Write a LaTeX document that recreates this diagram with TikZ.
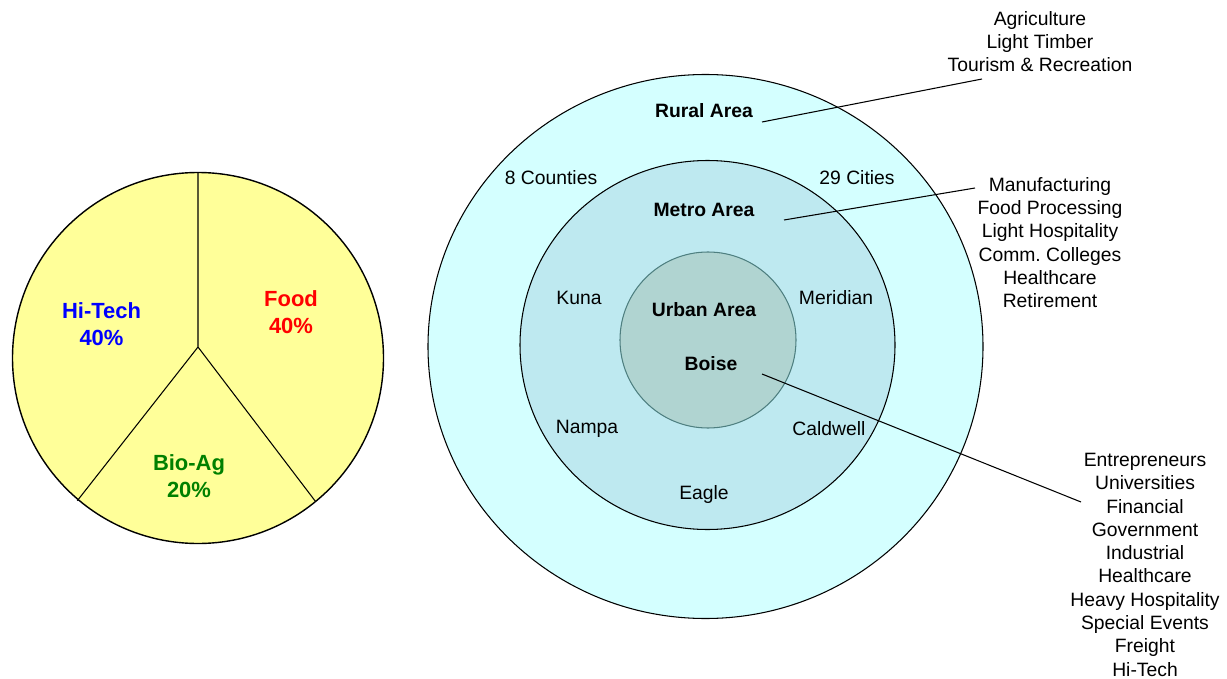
\documentclass[tikz,border=0pt]{standalone}
\usepackage{fontspec}
\setmainfont{Liberation Sans}
\frenchspacing
\definecolor{pieyellow}{HTML}{FFFF99}
\definecolor{ruralcyan}{HTML}{D4FFFF}
\definecolor{metroblue}{HTML}{BEE9F0}
\definecolor{urbangreen}{HTML}{B0D4D1}
\definecolor{urbanline}{HTML}{4E7F80}
\definecolor{bioaggreen}{HTML}{008000}

\begin{document}
\begin{tikzpicture}[x=0.02cm, y=-0.02cm, font=\fontsize{11}{13.25}\selectfont, % 1単位=1px、y軸は下向き
  area/.style={font=\fontsize{11}{13.25}\selectfont\bfseries}, % 地域名
  share/.style={font=\fontsize{12.5}{15.3}\selectfont\bfseries, align=center}, % 円グラフの割合
  jobs/.style={align=center}, % 産業の一覧
  leader/.style={line width=0.6pt}] % 引き出し線
  \useasboundingbox (0,0) rectangle (1227,679); % 全体の大きさ

  % 円グラフ
  \fill[pieyellow] (198,358) ellipse [x radius=185.5, y radius=185.5];
  \coordinate (pc) at (198,347); % 扇形の頂点
  \coordinate (ptop) at (198,172.5);
  \coordinate (pleft) at (77.3,500.7);
  \coordinate (pright) at (315.7,501.7);
  \draw[line width=0.6pt] (pleft) -- (pc) -- (pright) (pc) -- (ptop); % 区切り線
  \draw[line width=0.8pt] (198,358) ellipse [x radius=185.5, y radius=185.5];
  \node[share, text=blue] (hitech) at (101.5,324.5) {Hi-Tech\\40\%};
  \node[share, text=red] (food) at (291,312) {Food\\40\%};
  \node[share, text=bioaggreen] (bioag) at (189,476.5) {Bio-Ag\\20\%};

  % 同心円
  \draw[line width=0.6pt, fill=ruralcyan] (705.5,346.5) ellipse [x radius=277.5, y radius=272]; % 農村部
  \draw[line width=0.6pt, fill=metroblue] (707.5,345) ellipse [x radius=187.5, y radius=184.5]; % 都市圏
  \draw[line width=0.6pt, draw=urbanline, fill=urbangreen] (708,340) ellipse [x radius=88, y radius=88]; % 都心

  \node[area] (rural) at (704,111) {Rural Area};
  \node (counties) at (551,177.5) {8 Counties};
  \node (cities) at (857,177.5) {29 Cities};
  \node[area] (metro) at (704,209.5) {Metro Area};
  \node (kuna) at (579,297.5) {Kuna};
  \node (meridian) at (836,297.5) {Meridian};
  \node[area] (urban) at (704,309.5) {Urban Area};
  \node[area] (boise) at (711,363.5) {Boise};
  \node (nampa) at (587,428.5) {Nampa};
  \node (caldwell) at (829,428.5) {Caldwell};
  \node (eagle) at (704,494.5) {Eagle};

  % 産業の一覧
  \node[jobs, anchor=north] (ruraljobs) at (1040,5) {Agriculture\\Light Timber\\Tourism \& Recreation};
  \node[jobs, anchor=north] (metrojobs) at (1050,171) {Manufacturing\\Food Processing\\Light Hospitality\\Comm. Colleges\\Healthcare\\Retirement};
  \node[jobs, anchor=north] (urbanjobs) at (1145,447) {Entrepreneurs\\Universities\\Financial\\Government\\Industrial\\Healthcare\\Heavy Hospitality\\Special Events\\Freight\\Hi-Tech};

  % 引き出し線
  \coordinate (ruralfrom) at (762,122);
  \coordinate (ruralto) at (982,79);
  \coordinate (metrofrom) at (784,220);
  \coordinate (metroto) at (975,188);
  \coordinate (boisefrom) at (762,374);
  \coordinate (boiseto) at (1081,502);
  \draw[leader] (ruralfrom) -- (ruralto);
  \draw[leader] (metrofrom) -- (metroto);
  \draw[leader] (boisefrom) -- (boiseto);
\end{tikzpicture}
\end{document}
